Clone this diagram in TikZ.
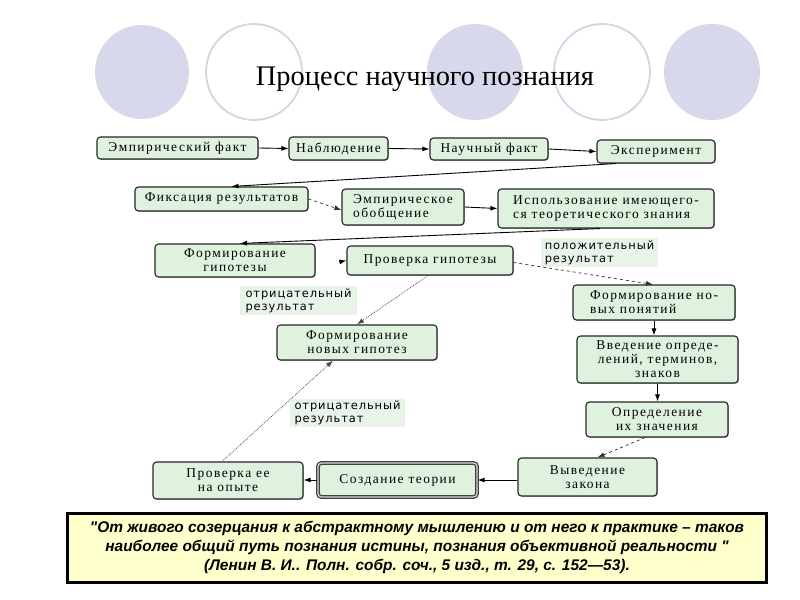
\documentclass[tikz,border=0pt]{standalone}
\usepackage{fontspec}
\setmainfont{Liberation Serif}
\newfontfamily\boxfont[LetterSpace=11]{Liberation Serif}
\newfontfamily\labfont[LetterSpace=8]{DejaVu Sans}
\newfontfamily\qfont{Liberation Sans}
\usetikzlibrary{arrows.meta,shadows}
\definecolor{boxgreen}{RGB}{222,242,222}
\definecolor{lav}{RGB}{216,216,236}
\definecolor{lavline}{RGB}{212,212,228}
\definecolor{labbg}{RGB}{232,244,232}
\definecolor{quotebg}{RGB}{255,255,204}
\begin{document}
\begin{tikzpicture}[x=1bp,y=-1bp,
  box/.style={draw=black!85, line width=1.1bp, rounded corners=3.5bp, fill=boxgreen,
    font=\boxfont\fontsize{13.5}{14}\selectfont, inner sep=1bp, align=center,
    drop shadow={shadow xshift=0.9bp, shadow yshift=-0.9bp, opacity=0.6}},
  lab/.style={fill=labbg, font=\labfont\fontsize{11.5}{13}\selectfont, align=left, inner sep=2bp},
  arr/.style={-{Latex[length=7bp,width=5bp]}, line width=0.9bp},
  dasharr/.style={arr, dashed, line width=0.7bp, draw=black!80},
  dotarr/.style={arr, densely dotted, line width=0.7bp, draw=black!70},
  fullcirc/.style={fill=lav, draw=none},
  ringcirc/.style={draw=lavline, line width=1.8bp, fill=white}
]
\useasboundingbox (0,0) rectangle (800,600);
\fill[white] (0,0) rectangle (800,600);
% decorative circles
\path[fullcirc] (142,72) circle (47);
\path[ringcirc] (254,72) circle (48);
\path[fullcirc] (475,72) circle (48);
\path[ringcirc] (602,72) circle (48);
\path[fullcirc] (712,72) circle (48);
\node (title) at (425,79) {\fontsize{28.5}{31}\selectfont Процесс научного познания};

% boxes
\node[box, minimum width=161bp, minimum height=22bp] (emp) at (177.5,148) {Эмпирический факт};
\node[box, minimum width=99bp, minimum height=23bp] (nabl) at (338.5,148.5) {Наблюдение};
\node[box, minimum width=118bp, minimum height=22bp] (nauch) at (489,149) {Научный факт};
\node[box, minimum width=118bp, minimum height=23bp] (exp) at (656,151.5) {Эксперимент};
\node[box, minimum width=173bp, minimum height=24bp] (fix) at (221.5,199) {Фиксация результатов};
\node[box, minimum width=122bp, minimum height=36bp, align=left] (obob) at (403,207) {Эмпирическое\\обобщение};
\node[box, minimum width=216bp, minimum height=39bp, align=left] (isp) at (606,208.5) {Использование имеющего-\\ся теоретического знания};
\node[box, minimum width=160bp, minimum height=33bp] (formg) at (235,260.5) {Формирование\\гипотезы};
\node[box, minimum width=166bp, minimum height=29bp] (prov) at (430,260.5) {Проверка гипотезы};
\node[box, minimum width=162bp, minimum height=35bp, align=left] (fnp) at (654,302.5) {Формирование но-\\вых понятий};
\node[box, minimum width=160bp, minimum height=35bp] (fng) at (357,342.5) {Формирование\\новых гипотез};
\node[box, minimum width=161bp, minimum height=47bp] (vved) at (657.5,359.5) {Введение опреде-\\лений, терминов,\\знаков};
\node[box, minimum width=142bp, minimum height=35bp] (opr) at (657,419.5) {Определение\\их значения};
\node[box, minimum width=139bp, minimum height=38bp] (vyv) at (587.5,477) {Выведение\\закона};
\node[box, minimum width=159bp, minimum height=34bp, draw=black!75, line width=1.3bp, double=white!70!gray, double distance=1.2bp] (sozd) at (397.5,480) {Создание теории};
\node[box, minimum width=150bp, minimum height=37bp] (provo) at (228,480.5) {Проверка ее\\на опыте};

% labels
\node[lab, minimum width=117bp, minimum height=27bp] (pos) at (599.5,252.5) {положительный\\результат};
\node[lab, minimum width=117bp, minimum height=25bp] (neg1) at (298.5,300.5) {отрицательный\\результат};
\node[lab, minimum width=115bp, minimum height=26bp] (neg2) at (347.5,413) {отрицательный\\результат};

% connectors
\draw[arr] (emp.east) -- (nabl.west);
\draw[arr] (nabl.east) -- (nauch.west);
\draw[arr] (nauch.east) -- (exp.west);
\draw[arr] ([shift={(-40,0)}]exp.south) -- ([shift={(10,0)}]fix.north);
\draw[dasharr] (fix.east) -- ([shift={(0,3)}]obob.west);
\draw[arr] (obob.east) -- (isp.west);
\draw[arr] ([shift={(-6,0)}]isp.south) -- ([shift={(5,0)}]formg.north);
\coordinate (stub) at (339,262);
\draw[arr] (stub) -- (prov.west);
\draw[dasharr] ([shift={(0,2)}]prov.east) -- ([shift={(-1,0)}]fnp.north);
\draw[dotarr] ([shift={(-2,0)}]prov.south) -- (fng.north);
\draw[arr] (fnp.south) -- (fnp.south |- vved.north);
\draw[arr] (vved.south) -- (vved.south |- opr.north);
\draw[dasharr] ([shift={(-12,0)}]opr.south) -- ([shift={(10,0)}]vyv.north);
\draw[arr] (sozd.east -| vyv.west) -- (sozd.east);
\draw[arr] (sozd.west) -- (sozd.west -| provo.east);
\draw[dotarr] ([shift={(-6,0)}]provo.north) -- ([shift={(-24,0)}]fng.south);

% quote
\node[draw=black, line width=3bp, fill=quotebg, minimum width=698bp, minimum height=69bp, align=center,
  font=\qfont\bfseries\itshape\fontsize{15.5}{19.5}\selectfont] (quote) at (417,547.5)
  {"От живого созерцания к абстрактному мышлению и от него к практике – таков\\
   наиболее общий путь познания истины, познания объективной реальности "\\
   (Ленин В. И.. Полн. собр. соч., 5 изд., т. 29, с. 152—53).};
\end{tikzpicture}
\end{document}
